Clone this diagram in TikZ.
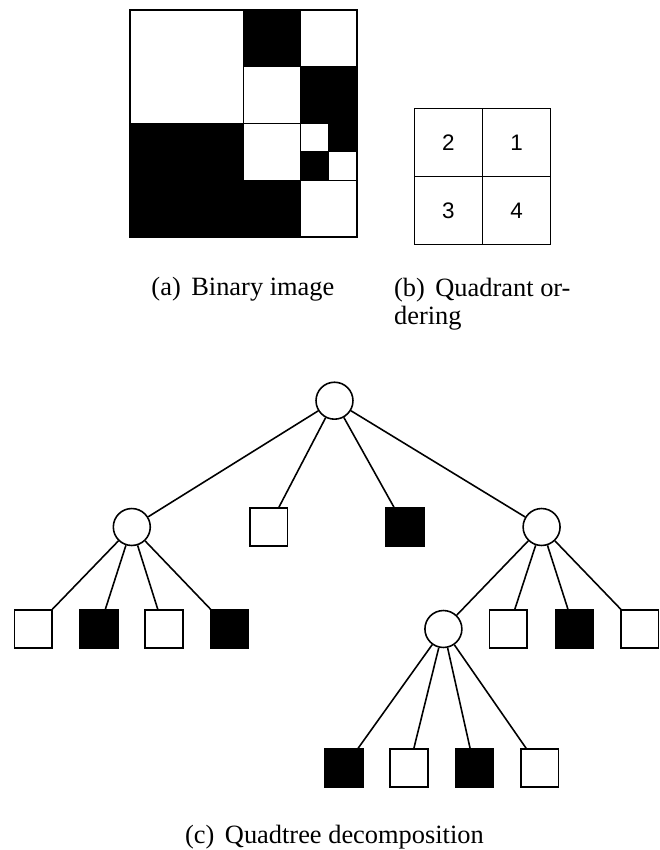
\documentclass[tikz,border=0pt]{standalone}
\usepackage{fontspec}
\setmainfont{Liberation Serif}
\newfontfamily\digitfont{Liberation Sans}
\begin{document}
\begin{tikzpicture}[x=0.3788pt, y=-0.3788pt, line width=0.6pt,
    inner/.style={circle, draw, minimum size=14pt, inner sep=0pt},
    leaf/.style={rectangle, draw, minimum size=14.2pt, inner sep=0pt},
    full/.style={leaf, fill=black},
    caption/.style={font=\fontsize{10}{10.8}\selectfont, inner sep=0pt, align=left}]

      \useasboundingbox (0,0) rectangle (660,850);

      % binary image, 8x8 grid
      \begin{scope}[shift={(130,10)}, scale=28.375]
        \fill (4,0) rectangle (6,2);
        \fill (6,2) rectangle (8,4);
        \fill (0,4) rectangle (4,8);
        \fill (7,4) rectangle (8,5);
        \fill (6,5) rectangle (7,6);
        \fill (4,6) rectangle (6,8);
        \begin{scope}[line width=0.45pt]
          \draw (0,0) rectangle (4,4);
          \draw (6,0) rectangle (8,2);
          \draw (4,2) rectangle (6,4);
          \draw (4,4) rectangle (6,6);
          \draw (6,4) rectangle (7,5);
          \draw (7,5) rectangle (8,6);
          \draw (6,6) rectangle (8,8);
        \end{scope}
        \draw (0,0) rectangle (8,8);
      \end{scope}

      % quadrant ordering
      \begin{scope}[line width=0.45pt]
        \draw (414.3,108.3) rectangle (550.7,244.3);
        \draw (482.5,108.3) -- (482.5,244.3);
        \draw (414.3,176.3) -- (550.7,176.3);
      \end{scope}
      \begin{scope}[every node/.style={font=\digitfont\fontsize{8.5}{10}\selectfont}]
        \node (q2) at (448.4,142.4) {2};
        \node (q1) at (516.6,142.4) {1};
        \node (q3) at (448.4,210.4) {3};
        \node (q4) at (516.6,210.4) {4};
      \end{scope}

      % quadtree
      \node[inner] (1)  at (334.5,400.7) {};
      \node[inner] (2)  at (131.8,527)   {};
      \node[leaf]  (3)  at (268.6,527)   {};
      \node[full]  (4)  at (405,527)     {};
      \node[inner] (5)  at (541.6,527)   {};
      \node[leaf]  (6)  at (33.3,629)    {};
      \node[full]  (7)  at (99,629)      {};
      \node[leaf]  (8)  at (164,629)     {};
      \node[full]  (9)  at (229.5,629)   {};
      \node[inner] (10) at (443.4,629)   {};
      \node[leaf]  (11) at (508.4,629)   {};
      \node[full]  (12) at (574.3,629)   {};
      \node[leaf]  (13) at (639.8,629)   {};
      \node[full]  (14) at (344,768)     {};
      \node[leaf]  (15) at (409,768)     {};
      \node[full]  (16) at (474.5,768)   {};
      \node[leaf]  (17) at (539.8,768)   {};

      \begin{scope}[every edge/.style={draw}]
        \path (1)  edge (2);
        \path (1)  edge (3);
        \path (1)  edge (4);
        \path (1)  edge (5);
        \path (2)  edge (6);
        \path (2)  edge (7);
        \path (2)  edge (8);
        \path (2)  edge (9);
        \path (5)  edge (10);
        \path (5)  edge (11);
        \path (5)  edge (12);
        \path (5)  edge (13);
        \path (10) edge (14);
        \path (10) edge (15);
        \path (10) edge (16);
        \path (10) edge (17);
      \end{scope}

      % captions
      \node[caption, anchor=base west] (capa) at (150.7,295) {(a)\hspace{4pt}Binary image};
      \node[caption, anchor=north west] (capb) at (393.3,277) {(b)\hspace{4pt}Quadrant or-\\dering};
      \node[caption, anchor=base west] (capc) at (184.3,843.3) {(c)\hspace{4pt}Quadtree decomposition};

    \end{tikzpicture}
\end{document}
